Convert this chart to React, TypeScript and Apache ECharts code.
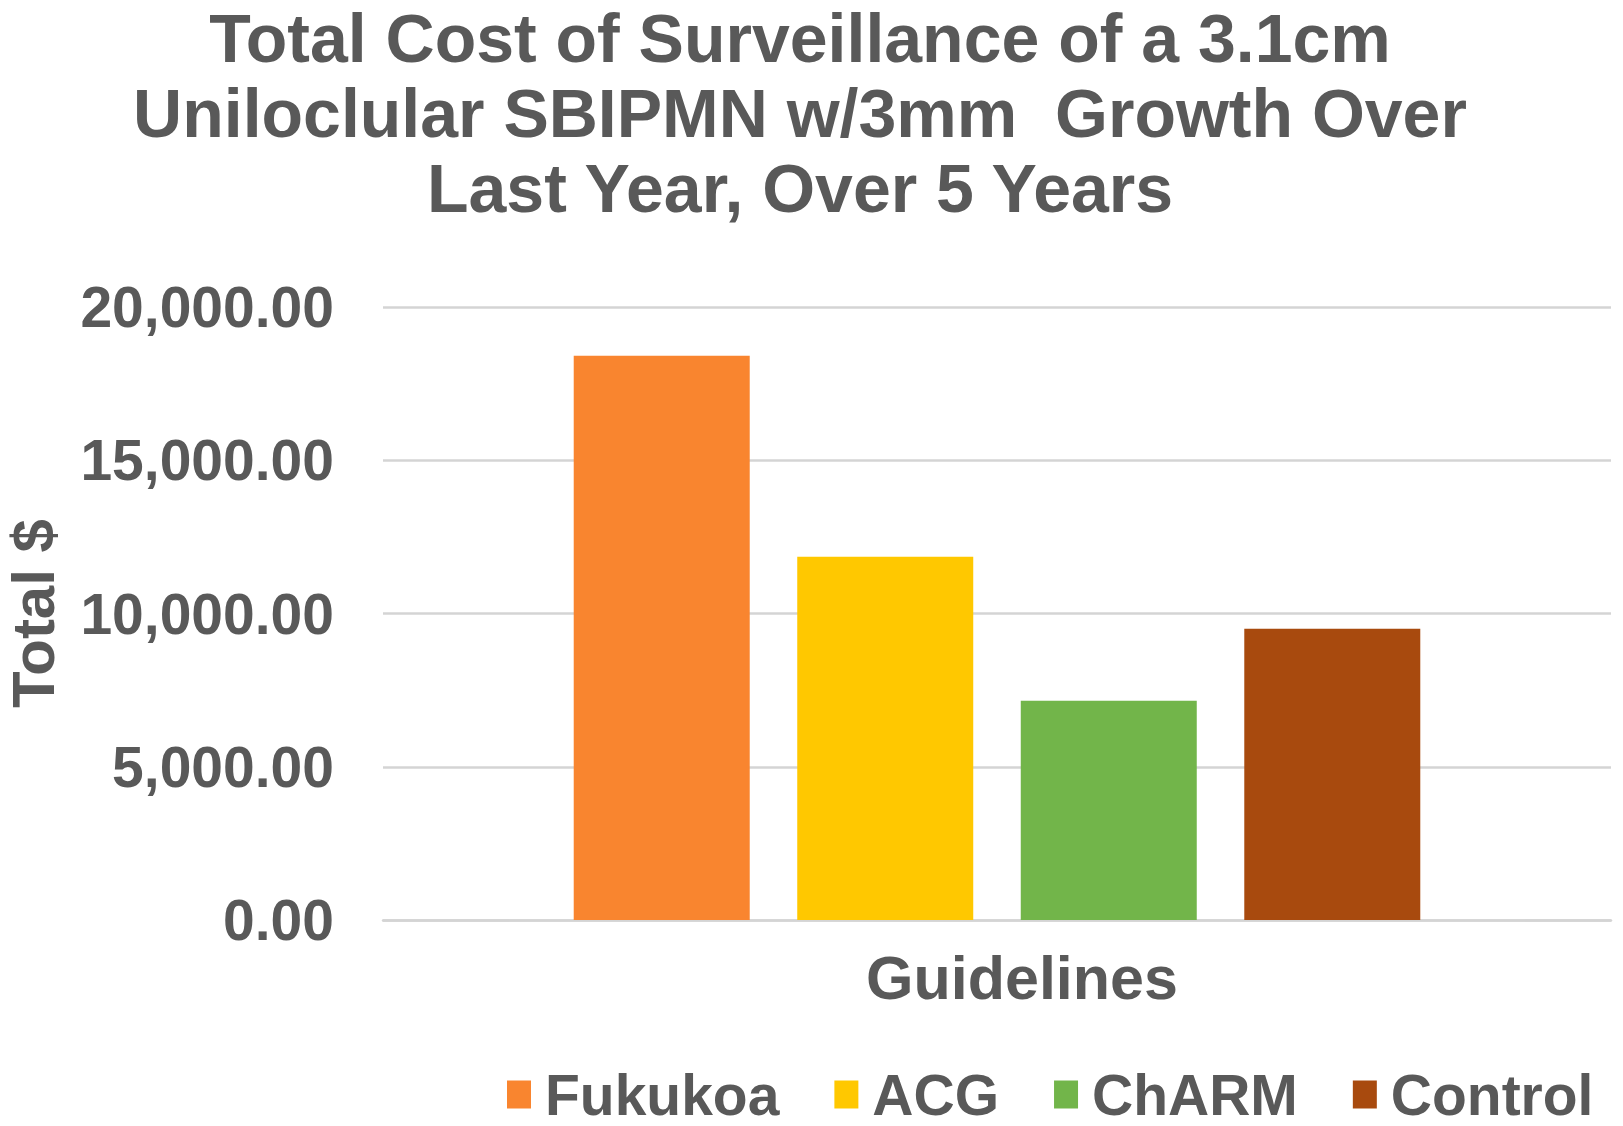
import React, { useEffect, useRef } from "react";
import * as echarts from "echarts";

const titleLines = [
  "Total Cost of Surveillance of a 3.1cm",
  "Uniloclular SBIPMN w/3mm  Growth Over",
  "Last Year, Over 5 Years",
];
const categories = [""];
const seriesNames = ["Fukukoa", "ACG", "ChARM", "Control"];
const seriesValues = [18410, 11850, 7150, 9500];
const seriesColors = ["#F9852F", "#FFC800", "#72B54A", "#A84A0E"];
const yTicks = { min: 0, max: 20000, interval: 5000 };

const FONT = "'Liberation Sans', Arial, sans-serif";
const GREY = "#595959";

export default function App() {
  const ref = useRef<HTMLDivElement>(null);
  useEffect(() => {
    if (!ref.current) return;
    const chart = echarts.init(ref.current, undefined, { renderer: "svg" });
    chart.setOption({
      animation: false,
      backgroundColor: "#ffffff",
      title: {
        text: titleLines.join("\n"),
        left: 800,
        top: 0,
        padding: 0,
        textAlign: "center",
        textStyle: {
          fontFamily: FONT,
          fontWeight: "bold",
          fontSize: 68,
          lineHeight: 75,
          color: GREY,
        },
      },
      legend: {
        data: seriesNames,
        left: 507,
        top: 1066,
        padding: 0,
        itemWidth: 24,
        itemHeight: 28,
        itemGap: 55,
        icon: "rect",
        textStyle: {
          fontFamily: FONT,
          fontWeight: "bold",
          fontSize: 57,
          lineHeight: 56,
          color: GREY,
          padding: [0, 0, 0, 9],
        },
      },
      grid: { left: 383, right: 12, top: 307, bottom: 206, outerBoundsMode: "none" },
      xAxis: {
        type: "category",
        data: categories,
        name: "Guidelines",
        nameLocation: "middle",
        nameGap: 27,
        nameTextStyle: {
          fontFamily: FONT,
          fontWeight: "bold",
          fontSize: 61,
          color: GREY,
          padding: [0, 0, 0, 50],
        },
        axisLine: { show: true, lineStyle: { color: "#d4d4d4", width: 2.5 } },
        axisTick: { show: false },
        axisLabel: { show: false },
      },
      yAxis: {
        type: "value",
        min: yTicks.min,
        max: yTicks.max,
        interval: yTicks.interval,
        name: "Total $",
        nameLocation: "middle",
        nameGap: 320,
        nameTextStyle: {
          fontFamily: FONT,
          fontWeight: "bold",
          fontSize: 60,
          color: GREY,
        },
        axisLine: { show: false },
        axisTick: { show: false },
        axisLabel: {
          margin: 49,
          fontFamily: FONT,
          fontWeight: "bold",
          fontSize: 57,
          color: GREY,
          formatter: (v: number) =>
            v.toLocaleString("en-US", { minimumFractionDigits: 2, maximumFractionDigits: 2 }),
        },
        splitLine: { lineStyle: { color: "#d4d4d4", width: 2.5 } },
      },
      series: seriesNames.map((name, i) => ({
        name,
        type: "bar",
        data: [seriesValues[i]],
        barWidth: 176,
        barGap: "27%",
        itemStyle: { color: seriesColors[i] },
      })),
    });
    return () => chart.dispose();
  }, []);
  return (
    <div
      ref={ref}
      style={{ position: "absolute", left: 0, top: 0, width: 1623, height: 1126 }}
    />
  );
}
